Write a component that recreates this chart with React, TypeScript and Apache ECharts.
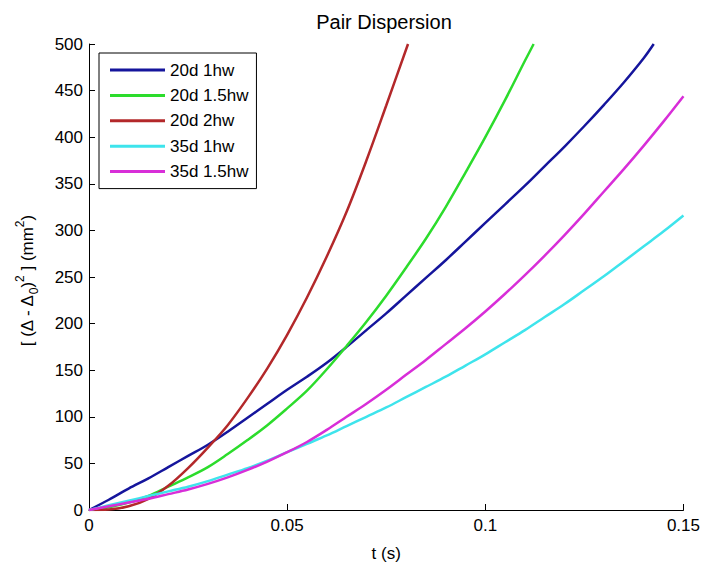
import React, { useEffect, useRef } from "react";
import * as echarts from "echarts";

const seriesNames = ["20d 1hw", "20d 1.5hw", "20d 2hw", "35d 1hw", "35d 1.5hw"];
const seriesColors = ["#15159c", "#2cdc2c", "#b3282a", "#3ee4ec", "#d82ed8"];

const xTicks = [0, 0.05, 0.1, 0.15];
const yTicks = [0, 50, 100, 150, 200, 250, 300, 350, 400, 450, 500];

const t20d1hw = [0, 0.005, 0.01, 0.015, 0.02, 0.025, 0.03, 0.035, 0.04, 0.045, 0.05, 0.055, 0.06, 0.065, 0.07, 0.075, 0.08, 0.085, 0.09, 0.095, 0.1, 0.105, 0.11, 0.115, 0.12, 0.125, 0.13, 0.135, 0.14, 0.1425];
const v20d1hw = [0, 11, 23, 34, 46, 58, 70, 84, 99, 114, 129, 143, 158, 175, 193, 211, 230, 249, 268, 288, 308, 328, 348, 369, 390, 412, 435, 459, 485, 500];

const t20d15hw = [0, 0.005, 0.01, 0.015, 0.02, 0.025, 0.03, 0.035, 0.04, 0.045, 0.05, 0.055, 0.06, 0.065, 0.07, 0.075, 0.08, 0.085, 0.09, 0.095, 0.1, 0.105, 0.11, 0.1122];
const v20d15hw = [0, 3, 8, 15, 25, 35, 46, 60, 75, 91, 109, 128, 151, 176, 202, 230, 260, 291, 325, 362, 400, 440, 482, 500];

const t20d2hw = [0, 0.005, 0.01, 0.015, 0.02, 0.025, 0.03, 0.035, 0.04, 0.045, 0.05, 0.055, 0.06, 0.065, 0.07, 0.075, 0.0805];
const v20d2hw = [0, 0.5, 4, 12, 26, 45, 67, 91, 120, 152, 188, 228, 272, 320, 375, 434, 500];

const t35d = [0, 0.005, 0.01, 0.015, 0.02, 0.025, 0.03, 0.035, 0.04, 0.045, 0.05, 0.055, 0.06, 0.065, 0.07, 0.075, 0.08, 0.085, 0.09, 0.095, 0.1, 0.105, 0.11, 0.115, 0.12, 0.125, 0.13, 0.135, 0.14, 0.145, 0.15];
const v35d1hw = [0, 5, 10, 15, 20, 25, 31, 38, 45, 53, 62, 71, 80, 90, 100, 110, 121, 132, 143, 155, 167, 180, 193, 207, 221, 236, 251, 267, 283, 299, 316];
const v35d15hw = [0, 4, 8, 12, 17, 22, 28, 35, 43, 52, 62, 73, 86, 100, 114, 129, 145, 161, 178, 195, 213, 232, 252, 273, 295, 318, 342, 366, 391, 417, 444];

const FONT = "'Liberation Sans', Arial, Helvetica, sans-serif";

const pairs = (t: number[], v: number[]) => t.map((x, i) => [x, v[i]]);

export default function App() {
  const ref = useRef<HTMLDivElement>(null);
  useEffect(() => {
    if (!ref.current) return;
    const chart = echarts.init(ref.current, undefined, { renderer: "svg" });
    const seriesData = [
      pairs(t20d1hw, v20d1hw),
      pairs(t20d15hw, v20d15hw),
      pairs(t20d2hw, v20d2hw),
      pairs(t35d, v35d1hw),
      pairs(t35d, v35d15hw),
    ];
    chart.setOption({
      animation: false,
      backgroundColor: "#ffffff",
      textStyle: { fontFamily: FONT },
      grid: { left: 89, right: 19, top: 44, bottom: 54, containLabel: false },
      xAxis: {
        type: "value",
        min: xTicks[0],
        max: xTicks[xTicks.length - 1],
        interval: 0.05,
        name: "t (s)",
        nameLocation: "middle",
        nameGap: 35,
        nameTextStyle: { color: "#000", fontSize: 17, fontFamily: FONT },
        axisLine: { show: true, lineStyle: { color: "#000", width: 1 } },
        axisTick: { show: true, inside: true, length: 6, lineStyle: { color: "#000" } },
        axisLabel: { color: "#000", fontSize: 17, margin: 7, fontFamily: FONT },
        splitLine: { show: false },
      },
      yAxis: {
        type: "value",
        min: yTicks[0],
        max: yTicks[yTicks.length - 1],
        interval: 50,
        axisLine: { show: true, lineStyle: { color: "#000", width: 1 } },
        axisTick: { show: true, inside: true, length: 6, lineStyle: { color: "#000" } },
        axisLabel: { color: "#000", fontSize: 17, margin: 6, fontFamily: FONT },
        splitLine: { show: false },
      },
      legend: {
        orient: "vertical",
        left: 99,
        top: 53,
        data: seriesNames.map((n) => ({ name: n, icon: "rect" })),
        itemWidth: 55,
        itemHeight: 3,
        itemGap: 7.4,
        padding: [8, 8, 8, 11],
        borderColor: "#000",
        borderWidth: 1,
        backgroundColor: "#fff",
        textStyle: { color: "#000", fontSize: 17, lineHeight: 18, fontFamily: FONT },
      },
      graphic: [
        {
          type: "text",
          x: 384,
          y: 22,
          style: {
            text: "Pair Dispersion",
            fill: "#000",
            font: `20px ${FONT}`,
            align: "center",
            verticalAlign: "middle",
          },
        },
        {
          type: "text",
          x: 27,
          y: 281,
          rotation: Math.PI / 2,
          style: {
            text: "[ (Δ - Δ{sub|0}){sup|2} ] (mm{sup|2})",
            fill: "#000",
            fontSize: 17,
            fontFamily: FONT,
            lineHeight: 26,
            align: "center",
            verticalAlign: "middle",
            rich: {
              sub: { fontSize: 12, lineHeight: 12, verticalAlign: "bottom", fill: "#000", fontFamily: FONT },
              sup: { fontSize: 12, lineHeight: 12, verticalAlign: "top", fill: "#000", fontFamily: FONT },
            },
          },
        },
      ],
      series: seriesNames.map((name, i) => ({
        name,
        type: "line",
        data: seriesData[i],
        showSymbol: false,
        symbol: "none",
        smooth: 0.35,
        clip: true,
        color: seriesColors[i],
        lineStyle: { color: seriesColors[i], width: 2.5 },
      })),
    });
    return () => chart.dispose();
  }, []);
  return (
    <div
      ref={ref}
      style={{ position: "fixed", left: 0, top: 0, width: 703, height: 567, background: "#fff" }}
    />
  );
}
